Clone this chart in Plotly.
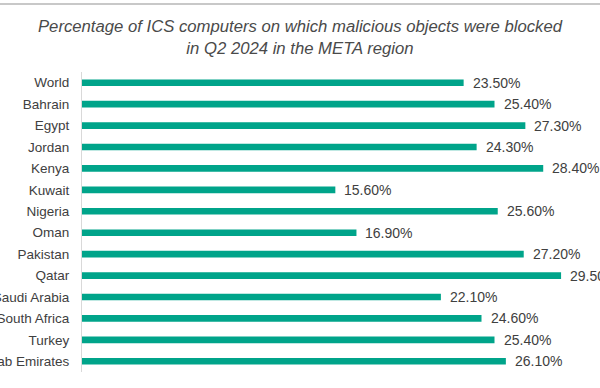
import plotly.graph_objects as go

countries = ["World", "Bahrain", "Egypt", "Jordan", "Kenya", "Kuwait", "Nigeria",
             "Oman", "Pakistan", "Qatar", "Saudi Arabia", "South Africa", "Turkey",
             "United Arab Emirates"]
values = [23.5, 25.4, 27.3, 24.3, 28.4, 15.6, 25.6, 16.9, 27.2, 29.5, 22.1, 24.6, 25.4, 26.1]
value_labels = [f"{v:.2f}%" for v in values]

title_text = ("Percentage of ICS computers on which malicious objects were blocked"
              "<br>in Q2 2024 in the META region")

BAR = "#00A48A"
TXT = "#404040"

fig = go.Figure()
fig.add_trace(go.Bar(
    x=values, y=countries, orientation="h",
    marker=dict(color=BAR, line=dict(width=0)),
    width=0.31, hoverinfo="skip",
))

for c, v, t in zip(countries, values, value_labels):
    fig.add_annotation(x=v, y=c, xref="x", yref="y", text=t, showarrow=False,
                       xanchor="left", yanchor="middle", xshift=7,
                       font=dict(family="Liberation Sans, Arial", size=14, color=TXT))

# thin gray line along the top edge
fig.add_shape(type="line", xref="paper", yref="paper", layer="above",
              x0=-0.2, x1=1.1, y0=1.2267, y1=1.2267,
              line=dict(color="#c8c8c8", width=2))

fig.update_layout(
    width=600, height=388,
    margin=dict(l=82, r=0, t=72, b=16, autoexpand=False),
    paper_bgcolor="white", plot_bgcolor="white",
    showlegend=False,
    title=dict(text=title_text, x=0.5, xanchor="center", xref="container",
               y=1 - 32 / 388, yanchor="top", yref="container",
               font=dict(family="Liberation Sans, Arial", size=16.7, color="#4a4a4a",
                         style="italic")),
    xaxis=dict(range=[0, 518 / 16.24], showgrid=False, zeroline=False,
               showticklabels=False, ticks="", showline=False, fixedrange=True),
    yaxis=dict(autorange="reversed", showgrid=False, zeroline=False,
               showline=True, linecolor="#d9d9d9", linewidth=1,
               ticks="outside", ticklen=9, tickcolor="rgba(0,0,0,0)",
               tickfont=dict(family="Liberation Sans, Arial", size=13.5, color=TXT),
               automargin=False, fixedrange=True),
)

fig.write_html("out.html", config={"displayModeBar": False},
               post_script="document.body.style.margin='0';document.body.style.overflow='hidden';")
